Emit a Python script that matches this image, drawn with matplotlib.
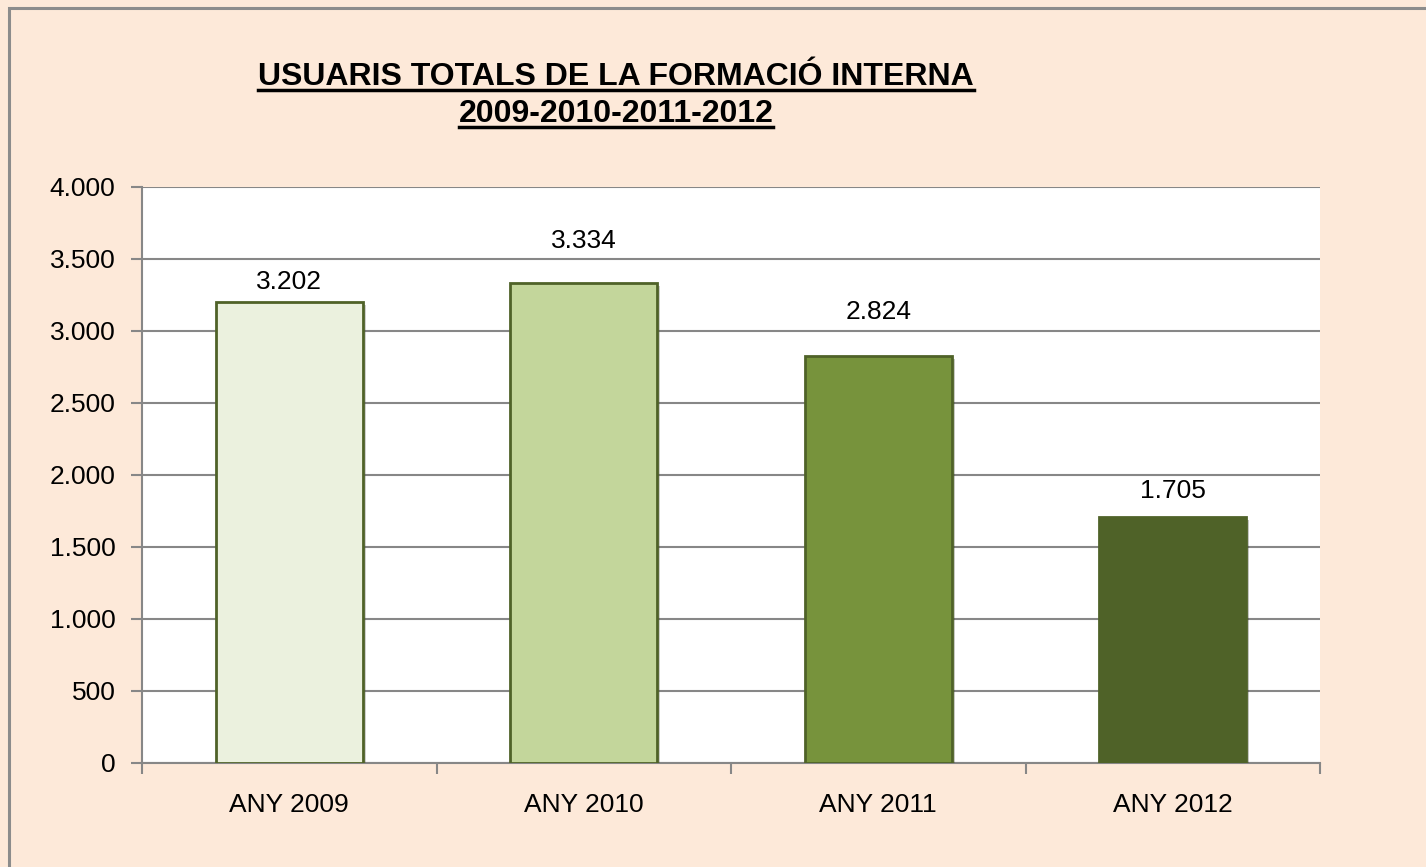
import matplotlib.pyplot as plt
from matplotlib.patches import Rectangle
from matplotlib.ticker import FuncFormatter, FixedLocator
import matplotlib.patheffects as pe

# Data
categories = ['ANY 2009', 'ANY 2010', 'ANY 2011', 'ANY 2012']
usuaris = [3202, 3334, 2824, 1705]
bar_colors = ['#EBF1DE', '#C3D69B', '#77933C', '#4F6228']
label_offsets_px = [20, 42, 44, 26]

title_lines = ['USUARIS TOTALS DE LA FORMACIÓ INTERNA', '2009-2010-2011-2012']

plt.rcParams['font.family'] = ['Liberation Sans', 'DejaVu Sans']

bg = '#FDE9D9'
grid_col = '#878787'

fig = plt.figure(figsize=(14.26, 8.67), dpi=100, facecolor=bg)

# outer chart border (left and top visible)
fig.patches.append(Rectangle((9 / 1426, -0.05), 1.1, 1 - 8 / 867 + 0.05,
                             transform=fig.transFigure, fill=False,
                             edgecolor='#8C8C8C', linewidth=2.2, zorder=0))

ax = fig.add_axes([142 / 1426, 1 - 763 / 867, (1320 - 142) / 1426, (763 - 187) / 867])
ax.set_facecolor('white')

x = range(len(categories))
bars = ax.bar(x, usuaris, width=0.5, color=bar_colors, edgecolor='#4F6228',
              linewidth=2, zorder=3)
for b in bars:
    b.set_path_effects([pe.SimplePatchShadow(offset=(2, -2), alpha=0.25), pe.Normal()])

for i, v in enumerate(usuaris):
    ax.annotate(f'{v:,}'.replace(',', '.'), (i, v), xytext=(0, label_offsets_px[i]),
                textcoords='offset pixels', ha='center', va='center', fontsize=19)

ax.set_xlim(-0.5, len(categories) - 0.5)
ax.set_ylim(0, 4000)
ax.set_yticks(range(0, 4001, 500))
ax.yaxis.set_major_formatter(FuncFormatter(lambda v, p: f'{int(v):,}'.replace(',', '.')))
ax.yaxis.grid(True, color=grid_col, linewidth=1.5, zorder=1)

ax.set_xticks(list(x))
ax.set_xticklabels(categories, fontsize=19)
ax.xaxis.set_minor_locator(FixedLocator([i - 0.5 for i in range(len(categories) + 1)]))
ax.tick_params(axis='x', which='major', length=0, pad=21.5)
ax.tick_params(axis='x', which='minor', length=8, width=1.5, color=grid_col, direction='out')
ax.tick_params(axis='y', length=8, width=1.5, color=grid_col, labelsize=19, pad=11)

for s in ['top', 'right']:
    ax.spines[s].set_visible(False)
for s in ['left', 'bottom']:
    ax.spines[s].set_color(grid_col)
    ax.spines[s].set_linewidth(1.5)

# title with underline
t1 = fig.text(616 / 1426, 1 - 85 / 867, title_lines[0], ha='center', va='baseline',
              fontsize=23, fontweight='bold')
t2 = fig.text(616 / 1426, 1 - 122 / 867, title_lines[1], ha='center', va='baseline',
              fontsize=23, fontweight='bold')
fig.canvas.draw()
r = fig.canvas.get_renderer()
for t, yu in [(t1, 90), (t2, 127)]:
    bb = t.get_window_extent(r)
    x0, x1 = bb.x0 / 1426, bb.x1 / 1426
    fig.add_artist(plt.Line2D([x0, x1], [1 - yu / 867] * 2, transform=fig.transFigure,
                              color='black', linewidth=2.5))

fig.savefig('out.png', dpi=100, facecolor=bg)
